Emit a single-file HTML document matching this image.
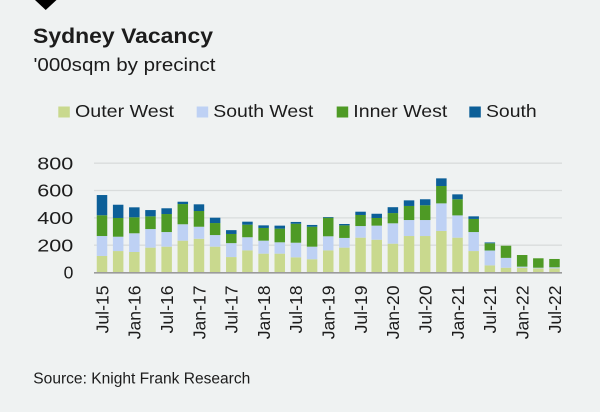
<!DOCTYPE html>
<html><head><meta charset="utf-8"><style>
html,body{margin:0;padding:0;background:#eff2f2;}
svg{display:block;}
text{font-family:"Liberation Sans",Arial,sans-serif;fill:#1c1c1c;}
</style></head><body>
<svg width="600" height="412" viewBox="0 0 600 412" xmlns="http://www.w3.org/2000/svg">
<rect width="600" height="412" fill="#eff2f2"/>
<polygon points="35,0 56.5,0 45.7,10" fill="#000"/>
<text x="33" y="43" font-size="21" font-weight="bold" textLength="180" lengthAdjust="spacingAndGlyphs">Sydney Vacancy</text>
<text x="33.5" y="71" font-size="18" textLength="182" lengthAdjust="spacingAndGlyphs">'000sqm by precinct</text>
<rect x="58.3" y="106.5" width="11.5" height="11" fill="#c9d98e"/>
<text x="75" y="116.8" font-size="17.7" textLength="99" lengthAdjust="spacingAndGlyphs">Outer West</text>
<rect x="196.7" y="106.5" width="11.5" height="11" fill="#bed1f4"/>
<text x="213.3" y="116.8" font-size="17.7" textLength="100" lengthAdjust="spacingAndGlyphs">South West</text>
<rect x="336.7" y="106.5" width="11.5" height="11" fill="#4e9a25"/>
<text x="353.3" y="116.8" font-size="17.7" textLength="94" lengthAdjust="spacingAndGlyphs">Inner West</text>
<rect x="469.3" y="106.5" width="11.5" height="11" fill="#0c5f98"/>
<text x="486" y="116.8" font-size="17.7" textLength="50.7" lengthAdjust="spacingAndGlyphs">South</text>
<g stroke="#d9dcdc" stroke-width="1.3">
<line x1="94" y1="163.2" x2="562" y2="163.2"/>
<line x1="94" y1="190.5" x2="562" y2="190.5"/>
<line x1="94" y1="217.9" x2="562" y2="217.9"/>
<line x1="94" y1="245.2" x2="562" y2="245.2"/>
</g>
<g font-size="17.5" text-anchor="end">
<text x="73.3" y="169.4" textLength="36" lengthAdjust="spacingAndGlyphs">800</text>
<text x="73.3" y="196.7" textLength="36" lengthAdjust="spacingAndGlyphs">600</text>
<text x="73.3" y="224" textLength="36" lengthAdjust="spacingAndGlyphs">400</text>
<text x="73.3" y="251.4" textLength="36" lengthAdjust="spacingAndGlyphs">200</text>
<text x="73.3" y="278.7">0</text>
</g>
<g transform="translate(0,272.5) scale(1,-0.13663)">
<g fill="#c9d98e">
<rect x="96.75" y="0" width="10.5" height="121"/>
<rect x="112.91" y="0" width="10.5" height="157"/>
<rect x="129.07" y="0" width="10.5" height="150"/>
<rect x="145.23" y="0" width="10.5" height="182"/>
<rect x="161.39" y="0" width="10.5" height="189"/>
<rect x="177.55" y="0" width="10.5" height="233"/>
<rect x="193.71" y="0" width="10.5" height="247"/>
<rect x="209.87" y="0" width="10.5" height="189"/>
<rect x="226.03" y="0" width="10.5" height="113"/>
<rect x="242.19" y="0" width="10.5" height="162"/>
<rect x="258.35" y="0" width="10.5" height="138"/>
<rect x="274.51" y="0" width="10.5" height="138"/>
<rect x="290.67" y="0" width="10.5" height="111"/>
<rect x="306.83" y="0" width="10.5" height="97"/>
<rect x="322.99" y="0" width="10.5" height="162"/>
<rect x="339.15" y="0" width="10.5" height="182"/>
<rect x="355.31" y="0" width="10.5" height="255"/>
<rect x="371.47" y="0" width="10.5" height="240"/>
<rect x="387.63" y="0" width="10.5" height="211"/>
<rect x="403.79" y="0" width="10.5" height="267"/>
<rect x="419.95" y="0" width="10.5" height="267"/>
<rect x="436.11" y="0" width="10.5" height="304"/>
<rect x="452.27" y="0" width="10.5" height="255"/>
<rect x="468.43" y="0" width="10.5" height="157"/>
<rect x="484.59" y="0" width="10.5" height="52"/>
<rect x="500.75" y="0" width="10.5" height="35"/>
<rect x="516.91" y="0" width="10.5" height="35"/>
<rect x="533.07" y="0" width="10.5" height="30"/>
<rect x="549.23" y="0" width="10.5" height="30"/>
</g>
<g fill="#bed1f4">
<rect x="96.75" y="121" width="10.5" height="146"/>
<rect x="112.91" y="157" width="10.5" height="105"/>
<rect x="129.07" y="150" width="10.5" height="137"/>
<rect x="145.23" y="182" width="10.5" height="136"/>
<rect x="161.39" y="189" width="10.5" height="107"/>
<rect x="177.55" y="233" width="10.5" height="120"/>
<rect x="193.71" y="247" width="10.5" height="88"/>
<rect x="209.87" y="189" width="10.5" height="85"/>
<rect x="226.03" y="113" width="10.5" height="102"/>
<rect x="242.19" y="162" width="10.5" height="96"/>
<rect x="258.35" y="138" width="10.5" height="95"/>
<rect x="274.51" y="138" width="10.5" height="83"/>
<rect x="290.67" y="111" width="10.5" height="107"/>
<rect x="306.83" y="97" width="10.5" height="92"/>
<rect x="322.99" y="162" width="10.5" height="103"/>
<rect x="339.15" y="182" width="10.5" height="71"/>
<rect x="355.31" y="255" width="10.5" height="85"/>
<rect x="371.47" y="240" width="10.5" height="103"/>
<rect x="387.63" y="211" width="10.5" height="149"/>
<rect x="403.79" y="267" width="10.5" height="117"/>
<rect x="419.95" y="267" width="10.5" height="117"/>
<rect x="436.11" y="304" width="10.5" height="202"/>
<rect x="452.27" y="255" width="10.5" height="163"/>
<rect x="468.43" y="157" width="10.5" height="139"/>
<rect x="484.59" y="52" width="10.5" height="109"/>
<rect x="500.75" y="35" width="10.5" height="72"/>
<rect x="516.91" y="35" width="10.5" height="8"/>
<rect x="533.07" y="30" width="10.5" height="5"/>
<rect x="549.23" y="30" width="10.5" height="8"/>
</g>
<g fill="#4e9a25">
<rect x="96.75" y="267" width="10.5" height="152"/>
<rect x="112.91" y="262" width="10.5" height="137"/>
<rect x="129.07" y="287" width="10.5" height="117"/>
<rect x="145.23" y="318" width="10.5" height="93"/>
<rect x="161.39" y="296" width="10.5" height="132"/>
<rect x="177.55" y="353" width="10.5" height="148"/>
<rect x="193.71" y="335" width="10.5" height="115"/>
<rect x="209.87" y="274" width="10.5" height="88"/>
<rect x="226.03" y="215" width="10.5" height="67"/>
<rect x="242.19" y="258" width="10.5" height="92"/>
<rect x="258.35" y="233" width="10.5" height="93"/>
<rect x="274.51" y="221" width="10.5" height="100"/>
<rect x="290.67" y="218" width="10.5" height="139"/>
<rect x="306.83" y="189" width="10.5" height="146"/>
<rect x="322.99" y="265" width="10.5" height="136"/>
<rect x="339.15" y="253" width="10.5" height="92"/>
<rect x="355.31" y="340" width="10.5" height="81"/>
<rect x="371.47" y="343" width="10.5" height="56"/>
<rect x="387.63" y="360" width="10.5" height="75"/>
<rect x="403.79" y="384" width="10.5" height="103"/>
<rect x="419.95" y="384" width="10.5" height="108"/>
<rect x="436.11" y="506" width="10.5" height="127"/>
<rect x="452.27" y="418" width="10.5" height="118"/>
<rect x="468.43" y="296" width="10.5" height="96"/>
<rect x="484.59" y="161" width="10.5" height="53"/>
<rect x="500.75" y="107" width="10.5" height="89"/>
<rect x="516.91" y="43" width="10.5" height="85"/>
<rect x="533.07" y="35" width="10.5" height="69"/>
<rect x="549.23" y="38" width="10.5" height="61"/>
</g>
<g fill="#0c5f98">
<rect x="96.75" y="419" width="10.5" height="148"/>
<rect x="112.91" y="399" width="10.5" height="97"/>
<rect x="129.07" y="404" width="10.5" height="73"/>
<rect x="145.23" y="411" width="10.5" height="46"/>
<rect x="161.39" y="428" width="10.5" height="42"/>
<rect x="177.55" y="501" width="10.5" height="17"/>
<rect x="193.71" y="450" width="10.5" height="49"/>
<rect x="209.87" y="362" width="10.5" height="39"/>
<rect x="226.03" y="282" width="10.5" height="28"/>
<rect x="242.19" y="350" width="10.5" height="22"/>
<rect x="258.35" y="326" width="10.5" height="19"/>
<rect x="274.51" y="321" width="10.5" height="22"/>
<rect x="290.67" y="357" width="10.5" height="13"/>
<rect x="306.83" y="335" width="10.5" height="13"/>
<rect x="322.99" y="401" width="10.5" height="5"/>
<rect x="339.15" y="345" width="10.5" height="10"/>
<rect x="355.31" y="421" width="10.5" height="24"/>
<rect x="371.47" y="399" width="10.5" height="31"/>
<rect x="387.63" y="435" width="10.5" height="43"/>
<rect x="403.79" y="487" width="10.5" height="41"/>
<rect x="419.95" y="492" width="10.5" height="44"/>
<rect x="436.11" y="633" width="10.5" height="56"/>
<rect x="452.27" y="536" width="10.5" height="36"/>
<rect x="468.43" y="392" width="10.5" height="19"/>
<rect x="484.59" y="214" width="10.5" height="6"/>
</g>
</g>
<line x1="94" y1="272.8" x2="562" y2="272.8" stroke="#9b9b9b" stroke-width="1.6"/>
<g font-size="17.6" text-anchor="end">
<text transform="translate(108.3,285.5) rotate(-90)">Jul-15</text>
<text transform="translate(140.62,285.5) rotate(-90)">Jan-16</text>
<text transform="translate(172.94,285.5) rotate(-90)">Jul-16</text>
<text transform="translate(205.26,285.5) rotate(-90)">Jan-17</text>
<text transform="translate(237.58,285.5) rotate(-90)">Jul-17</text>
<text transform="translate(269.9,285.5) rotate(-90)">Jan-18</text>
<text transform="translate(302.22,285.5) rotate(-90)">Jul-18</text>
<text transform="translate(334.54,285.5) rotate(-90)">Jan-19</text>
<text transform="translate(366.86,285.5) rotate(-90)">Jul-19</text>
<text transform="translate(399.18,285.5) rotate(-90)">Jan-20</text>
<text transform="translate(431.5,285.5) rotate(-90)">Jul-20</text>
<text transform="translate(463.82,285.5) rotate(-90)">Jan-21</text>
<text transform="translate(496.14,285.5) rotate(-90)">Jul-21</text>
<text transform="translate(528.46,285.5) rotate(-90)">Jan-22</text>
<text transform="translate(560.78,285.5) rotate(-90)">Jul-22</text>
</g>
<text x="33.3" y="383.3" font-size="15.5" textLength="217" lengthAdjust="spacingAndGlyphs">Source: Knight Frank Research</text>
</svg>
</body></html>
